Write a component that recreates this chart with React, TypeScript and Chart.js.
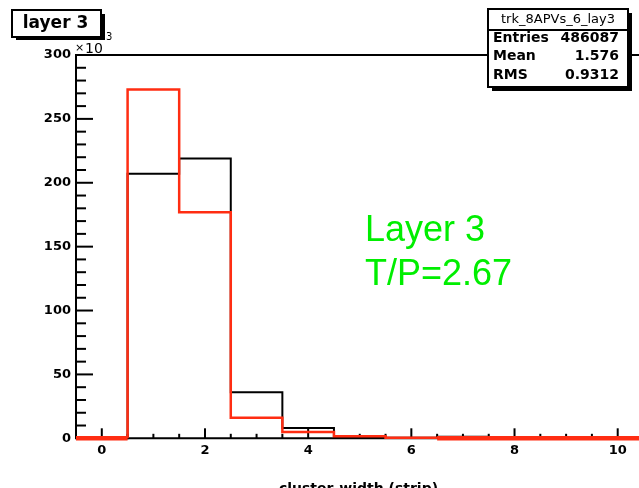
import { useEffect, useRef } from 'react';
import { Chart, registerables } from 'chart.js';

Chart.register(...registerables);

// ---- data (counts in units of 10^3) ----
const binCenters = [0, 1, 2, 3, 4, 5, 6, 7, 8, 9, 10];
const blackCounts = [0, 207, 219, 36, 8, 0.6, 0.4, 1.3, 0, 0, 0];
const redCounts = [0, 273, 177, 16, 5, 1.6, 0.4, 0, 0, 0, 0];
const binWidth = 1;
const xTickLabels = [0, 2, 4, 6, 8, 10];
const yTickLabels = [0, 50, 100, 150, 200, 250, 300];
const statsTitle = 'trk_8APVs_6_lay3';
const statsLabels = ['Entries', 'Mean', 'RMS'];
const statsValues = ['486087', '1.576', '0.9312'];
const padTitle = 'layer 3';
const noteLines = ['Layer 3', 'T/P=2.67'];
const xTitle = 'cluster-width (strip)';

const FONT = '"DejaVu Sans", sans-serif';
const RED = '#ff2d12';
const GREEN = '#00ee00';

function stepPoints(counts: number[]) {
  const pts: { x: number; y: number }[] = [];
  counts.forEach((v, i) => {
    const lo = binCenters[i] - binWidth / 2;
    pts.push({ x: lo, y: v }, { x: lo + binWidth, y: v });
  });
  return pts;
}

const rootPlugin = {
  id: 'rootDecor',
  beforeDatasetsDraw(chart: any) {
    const { ctx, chartArea: a, scales } = chart;
    const xs = scales.x;
    const ys = scales.y;
    ctx.save();
    ctx.strokeStyle = '#000';
    // frame
    ctx.lineWidth = 2;
    ctx.beginPath();
    ctx.moveTo(a.right + 10, a.top);
    ctx.lineTo(a.left, a.top);
    ctx.lineTo(a.left, a.bottom);
    ctx.lineTo(a.right + 10, a.bottom);
    ctx.stroke();
    // y ticks (inside)
    ctx.lineWidth = 2;
    for (let v = 0; v <= 300; v += 10) {
      const py = ys.getPixelForValue(v);
      const len = v % 50 === 0 ? 17 : 10;
      ctx.beginPath();
      ctx.moveTo(a.left, py);
      ctx.lineTo(a.left + len, py);
      ctx.stroke();
    }
    // x ticks (inside)
    for (let v = 0; v <= 10.001; v += 0.5) {
      const px = xs.getPixelForValue(v);
      const len = Math.abs(v % 2) < 1e-6 ? 10 : 4.5;
      ctx.beginPath();
      ctx.moveTo(px, a.bottom);
      ctx.lineTo(px, a.bottom - len);
      ctx.stroke();
    }
    ctx.restore();
  },
  afterDraw(chart: any) {
    const { ctx, chartArea: a } = chart;
    ctx.save();
    ctx.lineWidth = 2;
    ctx.strokeStyle = '#000';

    // pad title box
    ctx.fillStyle = '#000';
    ctx.fillRect(16, 14, 89, 26);
    ctx.fillStyle = '#fff';
    ctx.fillRect(12, 10, 89, 27);
    ctx.strokeRect(12, 10, 89, 27);
    ctx.fillStyle = '#000';
    ctx.font = `bold 17px ${FONT}`;
    ctx.textAlign = 'center';
    ctx.textBaseline = 'middle';
    ctx.fillText(padTitle, 55.5, 23.5, 70);

    // stats box
    const bx = 488, by = 9, bw = 140, bh = 78;
    ctx.fillStyle = '#000';
    ctx.fillRect(bx + 4, by + 4, bw, bh);
    ctx.fillStyle = '#fff';
    ctx.fillRect(bx, by, bw, bh);
    ctx.strokeRect(bx, by, bw, bh);
    ctx.beginPath();
    ctx.moveTo(bx, 30);
    ctx.lineTo(bx + bw, 30);
    ctx.stroke();
    ctx.fillStyle = '#000';
    ctx.font = `13px ${FONT}`;
    ctx.textAlign = 'center';
    ctx.fillText(statsTitle, bx + bw / 2, 19.5, 133);
    ctx.font = `bold 14px ${FONT}`;
    const rowY = [38, 56.5, 75];
    statsLabels.forEach((lab, i) => {
      ctx.textAlign = 'left';
      ctx.fillText(lab, 493, rowY[i]);
      ctx.textAlign = 'right';
      ctx.fillText(statsValues[i], 619, rowY[i]);
    });

    // x10^3 exponent
    ctx.textAlign = 'left';
    ctx.textBaseline = 'alphabetic';
    ctx.font = `11px ${FONT}`;
    ctx.fillText('\u00d7', 75, 51);
    ctx.font = `14px ${FONT}`;
    ctx.fillText('10', 85, 53);
    ctx.font = `10px ${FONT}`;
    ctx.fillText('3', 106, 39.5);

    // green annotation
    ctx.fillStyle = GREEN;
    ctx.font = `36px "Liberation Sans", Arial, sans-serif`;
    ctx.fillText(noteLines[0], 365, 241);
    ctx.fillText(noteLines[1], 365, 285);

    // x title (cut off at the bottom)
    ctx.fillStyle = '#000';
    ctx.font = `bold 14px ${FONT}`;
    ctx.textAlign = 'center';
    ctx.fillText(xTitle, 358.5, 493);
    ctx.restore();
  },
};

export default function App() {
  const ref = useRef<HTMLCanvasElement | null>(null);
  useEffect(() => {
    if (!ref.current) return;
    const chart = new Chart(ref.current, {
      type: 'line',
      data: {
        datasets: [
          {
            label: 'red',
            data: stepPoints(redCounts),
            borderColor: RED,
            borderWidth: 2.5,
            pointRadius: 0,
            fill: false,
            tension: 0,
            clip: false as any,
            segment: {
              borderWidth: (c: any) => (c.p0.parsed.y === 0 && c.p1.parsed.y === 0 ? 4.5 : 2.5),
            } as any,
          },
          {
            label: 'black',
            data: stepPoints(blackCounts),
            borderColor: '#000',
            borderWidth: 2,
            pointRadius: 0,
            fill: false,
            tension: 0,
            clip: false as any,
          },
        ],
      },
      options: {
        responsive: false,
        animation: false,
        devicePixelRatio: 1,
        layout: { padding: { top: 55, right: 6.5, left: 0, bottom: 0 } },
        plugins: { legend: { display: false }, tooltip: { enabled: false }, title: { display: false } },
        scales: {
          x: {
            type: 'linear',
            min: -0.5,
            max: 10.5,
            grid: { display: false, drawTicks: false },
            border: { display: false },
            afterBuildTicks: (s: any) => {
              s.ticks = xTickLabels.map((v) => ({ value: v }));
            },
            afterFit: (s: any) => {
              s.height = 49.7;
            },
            ticks: {
              autoSkip: false,
              maxRotation: 0,
              padding: 5,
              color: '#000',
              font: { family: FONT, size: 13, weight: 'bold' },
            },
          },
          y: {
            type: 'linear',
            min: 0,
            max: 300,
            grid: { display: false, drawTicks: false },
            border: { display: false },
            afterBuildTicks: (s: any) => {
              s.ticks = yTickLabels.map((v) => ({ value: v }));
            },
            afterFit: (s: any) => {
              s.width = 76;
            },
            ticks: {
              autoSkip: false,
              padding: 5,
              color: '#000',
              font: { family: FONT, size: 13, weight: 'bold' },
            },
          },
        },
      },
      plugins: [rootPlugin],
    } as any);
    return () => chart.destroy();
  }, []);

  return (
    <div
      style={{
        position: 'fixed',
        left: 0,
        top: 0,
        width: 639,
        height: 488,
        overflow: 'hidden',
        background: '#fff',
      }}
    >
      <canvas ref={ref} width={650} height={488} style={{ display: 'block', width: 650, height: 488 }} />
    </div>
  );
}
